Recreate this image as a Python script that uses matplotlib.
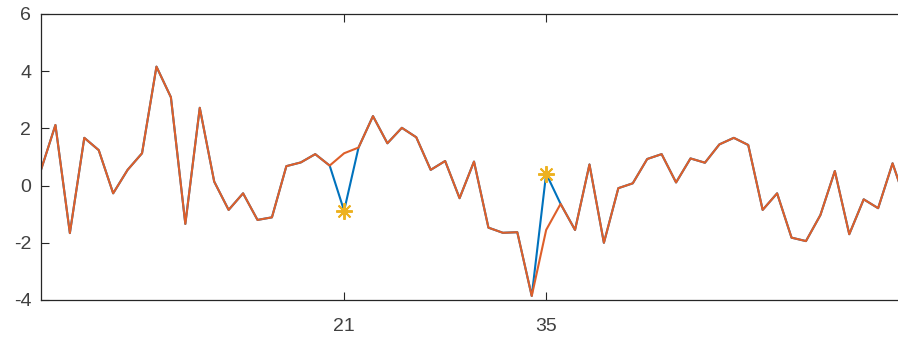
import matplotlib
matplotlib.use("Agg")
import matplotlib.pyplot as plt

# ===== data =====
x = list(range(61))

# original signal (blue), with the two outliers still in it
original = [0.55, 2.12, -1.66, 1.67, 1.24, -0.27, 0.55, 1.13, 4.16, 3.09,
            -1.34, 2.72, 0.14, -0.85, -0.27, -1.20, -1.11, 0.68, 0.81, 1.10,
            0.70, -0.88, 1.33, 2.43, 1.48, 2.02, 1.69, 0.55, 0.86, -0.44,
            0.84, -1.47, -1.65, -1.63, -3.86, 0.42, -0.64, -1.55, 0.74, -2.00,
            -0.09, 0.08, 0.93, 1.10, 0.11, 0.95, 0.80, 1.44, 1.67, 1.42,
            -0.85, -0.27, -1.82, -1.94, -1.03, 0.51, -1.70, -0.48, -0.79, 0.78,
            -0.70]

# filled signal (orange): same except at the outliers
filled = list(original)
filled[21] = 1.13
filled[35] = -1.55

outlier_x = [21, 35]
outlier_y = [original[i] for i in outlier_x]

x_ticks = [21, 35]
y_ticks = [-4, -2, 0, 2, 4, 6]

# ===== style =====
plt.rcParams["font.family"] = ["Liberation Sans", "DejaVu Sans"]
plt.rcParams["axes.unicode_minus"] = False

axis_col = "#262626"
label_col = "#404040"
blue = "#0072BD"
orange = "#DE5F2A"
yellow = "#EDB120"

W, H = 898, 342
fig = plt.figure(figsize=(W / 100, H / 100), dpi=100)
# axes box runs a little past the right edge, as in the cropped original
ax = fig.add_axes([41 / W, 42 / H, 866 / W, 286 / H])

ax.plot(x, original, color=blue, lw=1.5)
ax.plot(x, filled, color=orange, lw=1.5)
ax.plot(outlier_x, outlier_y, linestyle="none", marker=(8, 2, 0),
        markersize=12, markeredgewidth=1.4, color=yellow)

ax.set_xlim(0, 60)
ax.set_ylim(-4, 6)
ax.set_xticks(x_ticks)
ax.set_yticks(y_ticks)
ax.set_yticklabels([str(v) for v in y_ticks])

ax.tick_params(direction="in", length=6, width=0.8, color=axis_col,
               labelcolor=label_col, labelsize=14, top=True, right=True)
ax.tick_params(axis="x", pad=13)
ax.tick_params(axis="y", pad=7)
for s in ax.spines.values():
    s.set_color(axis_col)
    s.set_linewidth(0.9)

fig.savefig("out.png", dpi=100)
